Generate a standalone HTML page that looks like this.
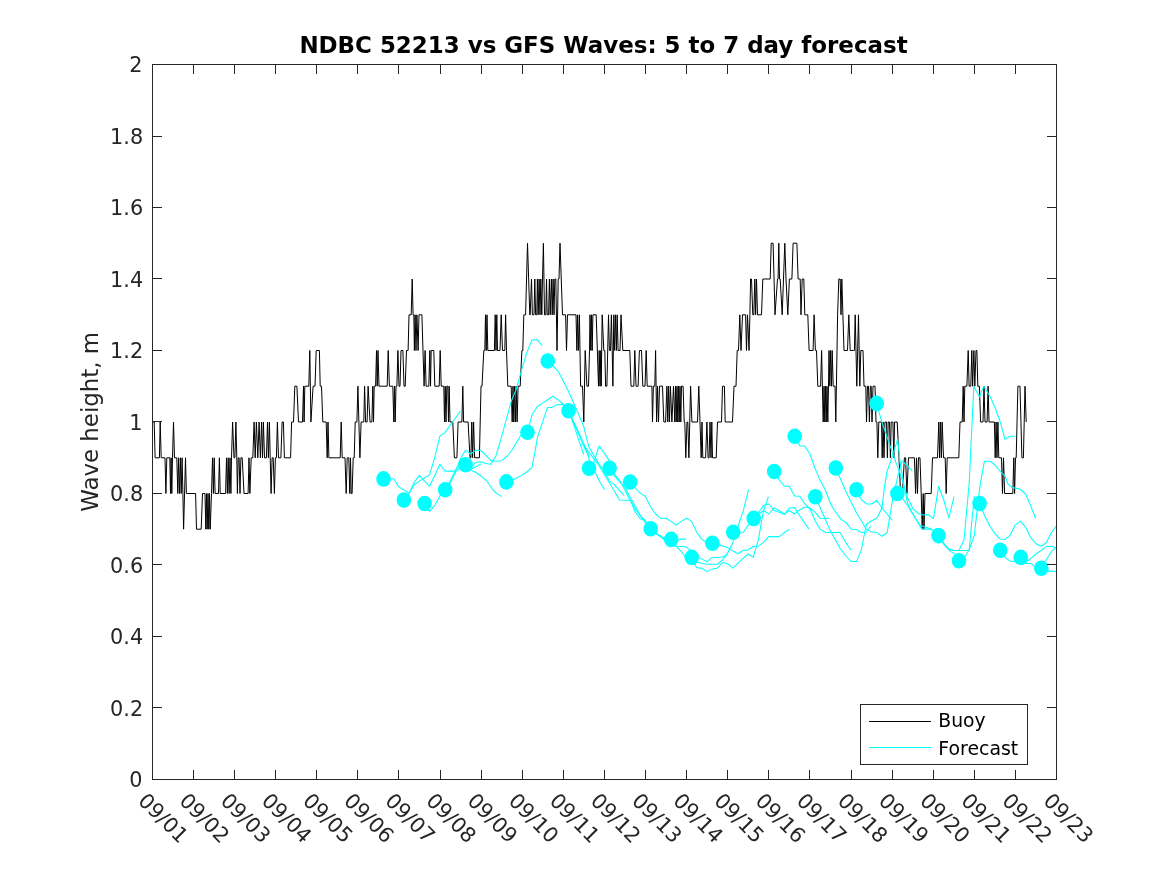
<!DOCTYPE html>
<html lang="en"><head><meta charset="utf-8"><title>NDBC 52213 vs GFS Waves: 5 to 7 day forecast</title>
<style>html,body{margin:0;padding:0;background:#fff;}body{width:1167px;height:875px;overflow:hidden;}svg{display:block;}text{font-family:"DejaVu Sans","Liberation Sans",sans-serif;}</style></head><body>
<svg width="1167" height="875" viewBox="0 0 1167 875">
<rect x="0" y="0" width="1167" height="875" fill="#fff"/>
<defs><clipPath id="axclip"><rect x="152.5" y="64.5" width="904.0" height="715.0"/></clipPath></defs>
<g fill="none" stroke="#000" stroke-width="1" stroke-linejoin="miter" stroke-miterlimit="3">
<path d="M152.5 422.0L154.2 422.0L155.1 457.8L159.4 457.8L160.2 422.0L161.2 457.8L165.0 457.8L165.9 493.5L166.8 457.8L169.8 457.8L170.5 493.5L171.1 457.8L171.8 493.5L172.5 457.8L173.5 422.0L174.5 457.8L176.8 457.8L177.8 493.5L178.6 457.8L179.5 493.5L180.4 457.8L181.2 493.5L182.1 457.8L182.9 493.5L183.6 529.2L185.5 457.8L186.4 493.5L195.6 493.5L196.5 529.2L201.2 529.2L202.5 493.5L205.0 493.5L205.8 529.2L206.5 493.5L207.2 529.2L208.0 493.5L208.8 529.2L209.5 493.5L210.2 529.2L211.5 493.5L212.5 457.8L213.4 493.5L214.2 457.8L215.1 493.5L218.5 493.5L219.4 457.8L220.2 493.5L225.6 493.5L226.5 457.8L227.4 493.5L228.2 457.8L229.1 493.5L230.0 457.8L230.9 493.5L231.5 457.8L232.6 422.0L234.0 457.8L234.9 457.8L235.9 422.0L236.8 457.8L237.4 493.5L238.2 457.8L239.1 457.8L240.0 493.5L240.9 457.8L242.2 457.8L244.0 493.5L248.1 493.5L249.0 457.8L249.9 493.5L251.2 457.8L252.8 457.8L254.1 422.0L255.2 457.8L256.4 422.0L257.8 457.8L259.1 422.0L260.4 457.8L261.6 422.0L262.5 457.8L263.4 422.0L264.5 457.8L266.4 457.8L267.5 422.0L268.4 457.8L269.4 422.0L270.2 457.8L271.1 493.5L272.1 457.8L273.2 457.8L274.4 493.5L275.4 457.8L276.4 457.8L277.4 422.0L278.5 457.8L280.9 457.8L282.1 422.0L283.4 422.0L284.4 457.8L290.6 457.8L291.6 422.0L293.5 422.0L294.8 386.2L296.9 386.2L298.5 422.0L302.5 422.0L303.5 386.2L304.1 422.0L304.8 386.2L308.8 386.2L309.8 350.5L310.9 422.0L313.1 386.2L315.0 386.2L316.2 350.5L319.4 350.5L320.2 386.2L321.5 386.2L322.8 422.0L326.2 422.0L327.2 457.8L328.0 422.0L328.9 457.8L340.2 457.8L341.2 422.0L342.2 457.8L345.0 457.8L346.2 493.5L347.2 457.8L348.8 457.8L349.8 493.5L350.5 457.8L351.2 493.5L352.1 493.5L353.2 457.8L354.2 457.8L355.2 422.0L356.9 422.0L357.9 386.2L359.9 457.8L361.1 422.0L363.8 422.0L364.6 386.2L365.6 422.0L367.1 422.0L368.1 386.2L370.0 422.0L371.9 422.0L372.8 386.2L373.5 422.0L374.2 386.2L375.6 386.2L376.5 350.5L377.2 386.2L378.0 350.5L379.0 386.2L387.2 386.2L388.2 350.5L389.4 386.2L392.8 386.2L393.8 422.0L394.5 386.2L395.2 422.0L396.0 386.2L396.9 386.2L397.9 350.5L399.0 386.2L400.0 386.2L401.0 350.5L402.9 350.5L404.0 386.2L405.2 386.2L406.5 350.5L408.1 350.5L409.0 314.8L411.2 314.8L412.2 279.0L413.1 314.8L413.8 314.8L414.4 350.5L415.1 314.8L416.0 350.5L416.9 314.8L418.1 350.5L419.0 314.8L421.9 314.8L424.1 386.2L425.1 350.5L426.1 386.2L428.8 386.2L429.8 350.5L430.5 386.2L431.2 350.5L433.8 350.5L434.8 386.2L439.2 386.2L440.2 350.5L441.2 386.2L443.8 386.2L444.5 422.0L445.2 386.2L446.0 422.0L446.8 386.2L447.8 386.2L448.5 422.0L449.2 386.2L450.0 422.0L451.0 422.0L452.8 422.0L454.4 457.8L456.9 457.8L458.1 422.0L461.9 422.0L462.8 386.2L463.6 422.0L468.1 422.0L470.0 457.8L470.9 457.8L471.8 422.0L472.6 457.8L473.6 422.0L474.6 457.8L479.4 457.8L481.0 386.2L482.0 386.2L483.8 350.5L484.8 350.5L485.5 314.8L486.2 350.5L487.0 314.8L487.8 350.5L494.4 350.5L495.2 314.8L496.0 350.5L496.8 314.8L497.5 350.5L500.0 350.5L501.2 314.8L502.5 350.5L504.8 350.5L505.6 314.8L506.5 350.5L507.8 386.2L511.2 386.2L512.2 422.0L513.0 386.2L513.8 422.0L514.5 386.2L515.4 422.0L516.2 386.2L517.1 422.0L518.1 386.2L520.2 386.2L521.9 350.5L522.8 350.5L523.8 314.8L525.6 314.8L527.5 243.2L529.8 314.8L530.2 314.8L531.5 279.0L532.4 314.8L534.0 314.8L534.8 279.0L535.6 314.8L536.8 314.8L537.4 279.0L538.2 314.8L539.1 279.0L540.0 314.8L540.8 279.0L541.8 314.8L542.5 279.0L543.4 243.2L544.5 314.8L545.8 314.8L546.5 279.0L547.2 314.8L548.6 314.8L549.4 279.0L550.2 314.8L551.4 279.0L552.2 314.8L553.1 279.0L554.0 314.8L554.8 279.0L555.8 279.0L557.0 350.5L558.2 279.0L559.0 279.0L560.0 243.2L562.5 314.8L565.6 314.8L566.5 350.5L567.5 314.8L575.0 314.8L576.0 314.8L576.9 350.5L577.6 314.8L578.5 350.5L579.4 314.8L580.6 386.2L582.5 386.2L583.8 422.0L585.2 350.5L586.9 386.2L588.5 386.2L589.5 350.5L590.0 314.8L590.8 350.5L591.5 314.8L592.2 350.5L592.9 314.8L596.2 314.8L598.5 386.2L599.2 350.5L600.0 386.2L600.8 350.5L601.2 386.2L602.2 314.8L603.8 350.5L604.8 350.5L605.6 386.2L606.9 386.2L608.5 314.8L609.4 350.5L610.5 350.5L611.4 314.8L612.2 350.5L612.9 386.2L613.8 314.8L614.6 350.5L615.5 314.8L616.4 350.5L617.2 314.8L618.1 350.5L620.0 350.5L621.0 314.8L622.8 350.5L629.8 350.5L631.0 386.2L633.8 386.2L634.8 350.5L636.0 386.2L638.1 386.2L639.4 350.5L641.5 350.5L642.8 386.2L645.0 386.2L646.2 350.5L647.2 386.2L651.9 386.2L652.5 422.0L653.4 386.2L654.8 386.2L655.6 350.5L656.6 422.0L657.5 386.2L658.5 422.0L659.5 386.2L662.5 386.2L663.8 422.0L665.6 422.0L666.9 386.2L667.8 422.0L668.6 386.2L669.5 422.0L670.4 386.2L671.9 422.0L673.5 386.2L674.8 422.0L675.5 386.2L676.2 422.0L677.0 386.2L677.8 422.0L678.5 386.2L679.2 422.0L680.0 386.2L680.8 422.0L681.5 386.2L683.1 386.2L684.2 422.0L684.8 422.0L685.8 457.8L687.0 422.0L687.8 422.0L688.9 457.8L690.6 386.2L691.9 422.0L697.5 422.0L698.8 386.2L700.0 422.0L701.2 457.8L702.0 422.0L702.8 457.8L705.6 457.8L706.9 422.0L708.1 457.8L709.1 457.8L710.0 422.0L711.0 457.8L711.8 422.0L712.5 457.8L713.1 457.8L716.2 457.8L717.5 422.0L721.5 422.0L722.5 386.2L724.4 386.2L725.2 422.0L732.5 422.0L734.0 386.2L736.0 386.2L737.2 350.5L738.5 350.5L739.8 314.8L741.0 350.5L742.5 314.8L745.6 314.8L746.5 350.5L747.5 314.8L749.0 350.5L749.9 314.8L750.6 279.0L751.5 279.0L752.8 314.8L753.8 314.8L754.8 279.0L755.6 314.8L756.5 279.0L757.5 314.8L761.5 314.8L762.8 279.0L770.2 279.0L771.2 243.2L773.1 243.2L775.0 314.8L777.5 279.0L778.1 279.0L778.8 243.2L779.5 279.0L780.2 279.0L782.2 314.8L784.8 243.2L786.0 279.0L787.8 314.8L789.4 279.0L791.9 279.0L793.1 243.2L796.9 243.2L798.1 279.0L800.2 279.0L801.0 314.8L802.2 279.0L803.8 279.0L804.8 314.8L807.8 314.8L809.1 350.5L813.1 350.5L814.1 314.8L815.4 350.5L816.5 350.5L817.8 386.2L820.6 386.2L821.6 350.5L823.2 422.0L824.0 386.2L824.8 422.0L825.5 386.2L826.2 422.0L827.0 386.2L827.8 422.0L828.5 386.2L829.0 350.5L829.8 386.2L830.6 350.5L831.5 386.2L832.2 350.5L833.2 386.2L835.0 386.2L835.8 422.0L837.6 314.8L838.8 279.0L840.2 279.0L841.0 314.8L841.8 279.0L844.0 350.5L847.5 350.5L848.8 314.8L850.2 350.5L853.8 350.5L854.4 350.5L855.2 314.8L856.8 386.2L858.5 314.8L859.8 386.2L860.8 350.5L863.0 350.5L864.0 386.2L865.8 386.2L866.5 422.0L867.5 386.2L868.5 386.2L869.4 422.0L870.4 386.2L871.2 386.2L872.0 422.0L873.0 386.2L875.0 386.2L876.0 422.0L876.9 422.0L877.8 457.8L878.8 422.0L881.5 422.0L882.2 457.8L883.1 422.0L884.0 457.8L884.9 422.0L886.5 422.0L887.4 457.8L888.2 422.0L889.5 422.0L890.4 457.8L891.2 422.0L892.9 422.0L893.8 457.8L894.6 422.0L897.2 422.0L899.0 457.8L900.6 493.5L902.5 493.5L904.4 457.8L905.6 457.8L906.9 493.5L908.5 457.8L914.4 457.8L915.6 493.5L916.5 457.8L917.5 493.5L918.5 457.8L920.0 457.8L921.2 493.5L922.2 529.2L923.2 493.5L924.0 529.2L925.0 493.5L931.2 493.5L932.5 457.8L937.5 457.8L938.8 422.0L939.6 457.8L940.5 422.0L941.4 457.8L942.2 422.0L943.5 457.8L945.2 457.8L946.2 493.5L947.2 457.8L958.8 457.8L960.0 422.0L962.2 422.0L963.2 386.2L964.0 422.0L964.8 386.2L966.9 386.2L968.2 350.5L969.1 386.2L970.8 386.2L971.8 350.5L972.6 386.2L973.9 350.5L974.8 386.2L976.0 350.5L976.9 350.5L977.8 386.2L979.4 386.2L980.6 422.0L983.0 422.0L984.0 386.2L985.0 422.0L987.1 422.0L988.1 386.2L989.0 422.0L994.4 422.0L995.2 457.8L996.1 422.0L997.0 457.8L997.9 422.0L998.8 457.8L1001.5 457.8L1002.5 493.5L1003.5 457.8L1004.6 493.5L1012.8 493.5L1013.8 457.8L1014.6 493.5L1015.5 457.8L1016.2 457.8L1017.9 386.2L1020.0 386.2L1021.9 457.8L1023.4 457.8L1025.0 386.2L1026.2 422.0"/>
</g>
<g fill="none" stroke="#00ffff" stroke-width="1.05" stroke-linejoin="round" clip-path="url(#axclip)">
<path d="M383.4 478.8L388.5 478.5L393.7 478.8L398.8 486.9L403.9 490.0L409.1 493.1L414.2 484.8L419.4 481.1L424.5 478.0L429.6 474.9L434.8 457.4L439.9 436.0L445.1 432.6L450.2 425.2L455.3 418.3L460.5 411.1"/>
<path d="M403.9 500.2L409.1 493.7L414.2 482.3L419.4 475.4L424.5 481.1L429.6 486.2L434.8 475.4L439.9 464.3L445.1 471.1L450.2 471.1L455.3 471.1L460.5 468.5L465.6 467.7L470.8 469.4L475.9 466.8L481.1 463.9"/>
<path d="M424.5 503.7L429.6 511.4L434.8 505.4L439.9 496.0L445.1 489.5L450.2 483.1L455.3 472.8L460.5 463.4L465.6 466.0L471.1 470.3L476.3 472.8L481.4 476.3L486.5 480.5L491.7 488.3L496.5 493.4L501.6 496.5"/>
<path d="M444.9 489.5L450.0 481.4L455.2 471.1L460.3 459.1L465.5 450.2L470.6 454.0L475.7 450.2L480.9 450.5L486.0 455.3L491.2 460.8L496.3 461.2L501.4 460.8L506.6 456.5L511.7 450.5L516.9 442.0L522.0 433.4"/>
<path d="M465.1 464.3L470.3 469.1L475.4 462.5L480.5 461.7L485.7 463.4L490.8 464.3L496.0 455.7L501.1 438.6L506.2 419.7L511.4 400.8L516.5 388.6L521.7 369.7L526.8 352.6L531.9 340.1L537.1 339.4L542.2 346.0"/>
<path d="M506.2 482.3L511.4 480.5L516.5 478.0L521.7 475.4L526.8 472.0L532.0 467.3L534.9 451.9L537.6 436.8L542.8 421.4L547.5 407.4L552.0 407.4L557.1 404.8L562.3 404.3L567.9 409.1L573.1 422.8L578.2 438.3L583.7 454.5"/>
<path d="M527.1 432.3L532.3 414.3L537.4 406.5L542.6 403.1L547.7 399.7L552.8 396.3L558.0 399.7L563.1 404.0L568.3 410.8L573.4 421.1L578.6 432.3L583.7 443.4L588.8 455.4L588.8 458.9L596.0 474.3L600.3 482.8L604.6 489.7"/>
<path d="M547.7 361.1L552.8 365.9L558.0 371.1L563.1 380.8L568.3 391.1L573.4 402.3L578.6 414.3L583.7 426.3L588.8 446.8L594.0 455.4L599.1 464.0L604.2 470.8L609.4 481.1L614.5 484.6L619.6 490.6L624.3 495.7"/>
<path d="M568.3 410.8L573.4 422.0L578.6 434.0L583.7 446.0L588.8 457.1L583.7 445.1L588.8 452.0L593.9 458.9L599.1 465.7L604.2 474.3L609.4 482.8L614.5 491.4L619.6 500.0L624.8 500.3L630.6 500.3L635.1 512.0L640.2 518.5L645.3 521.4"/>
<path d="M588.8 468.3L593.9 462.3L599.1 446.0L604.2 452.9L609.4 460.6L614.5 474.3L619.6 480.3L624.8 489.7L629.9 500.0L635.1 508.6L640.2 515.4L645.3 520.5L650.5 528.8L655.6 533.4L660.8 536.8L665.7 538.5"/>
<path d="M609.4 468.3L614.5 476.0L619.6 482.0L624.8 487.1L629.9 496.6L635.1 506.0L640.2 515.4L645.3 522.3L650.5 528.8L655.6 533.4L660.8 536.8L665.9 541.1L671.1 542.8L676.2 541.1L681.3 539.1L686.0 539.1"/>
<path d="M629.9 482.0L635.1 488.0L640.2 493.1L645.3 496.2L650.5 506.8L655.6 514.0L660.8 518.3L665.9 518.3L671.1 521.4L676.2 525.2L681.3 521.4L686.5 518.3L691.6 521.4L696.8 532.5L701.9 539.4L707.0 542.8"/>
<path d="M650.5 528.8L655.6 533.4L660.8 536.0L665.9 541.1L671.1 542.8L676.2 546.3L681.3 546.6L686.5 547.1L691.6 551.4L696.8 556.5L701.9 559.1L707.0 561.7L712.2 557.4L717.3 557.4L722.5 556.9L727.6 554.5"/>
<path d="M671.1 539.4L676.2 546.3L681.3 551.4L686.5 558.3L691.6 560.0L696.8 561.7L701.9 563.4L707.0 564.3L712.2 564.3L717.3 564.3L722.5 560.0L727.6 553.1L732.8 542.8L738.2 525.7L743.4 510.3L748.5 489.7"/>
<path d="M691.6 557.4L696.8 567.7L701.9 568.2L707.0 571.6L712.2 568.9L717.3 568.2L722.5 562.5L727.6 563.7L732.8 568.2L737.9 563.4L743.0 558.3L748.2 554.0L753.2 557.3L758.4 539.7L763.5 510.5L768.5 496.8"/>
<path d="M712.2 543.2L717.3 543.7L722.5 545.9L727.5 547.4L732.7 550.8L737.8 553.7L743.0 550.5L748.1 550.0L753.2 546.5L758.4 546.2L763.5 542.3L768.7 536.6L773.8 536.6L779.0 536.6L784.1 532.8L789.1 529.4"/>
<path d="M732.9 532.3L738.0 532.8L743.1 532.5L748.3 525.1L753.4 518.3L758.6 512.3L763.7 505.4L768.8 504.0L774.0 510.5L779.1 512.3L784.3 514.3L789.4 508.0L794.6 507.5L799.7 515.7L804.8 523.4L809.1 529.1"/>
<path d="M753.4 518.3L758.6 514.0L763.7 510.5L768.8 514.0L774.0 508.0L779.1 510.5L784.3 514.0L789.4 510.5L794.6 514.0L799.7 509.7L804.8 507.1L810.0 508.0L815.1 512.3L820.3 518.3L825.4 518.6L829.7 518.3"/>
<path d="M774.0 471.6L779.1 479.7L784.3 486.0L789.4 486.6L794.6 496.0L799.7 496.3L804.8 503.7L810.0 508.8L815.1 520.8L820.3 529.4L825.4 532.3L830.5 532.5L840.0 532.5L846.0 543.1L851.1 550.0"/>
<path d="M794.6 436.5L799.7 445.8L804.8 446.3L810.0 454.0L815.1 468.6L820.3 480.6L825.4 490.0L830.5 503.7L835.7 512.3L840.8 519.1L846.0 522.5L851.1 529.1L856.2 529.4L861.4 532.5L866.5 532.0L870.8 526.0"/>
<path d="M815.1 496.8L818.5 503.7L823.7 515.7L829.7 529.4L834.8 538.8L840.0 548.3L846.0 556.0L851.1 561.4L856.6 561.4L861.4 550.0L864.8 532.0L866.5 524.3L871.7 520.8L876.8 518.3L882.0 508.0L884.5 486.6L887.1 471.1L891.4 459.1L897.7 439.1L899.9 460.8L904.2 486.6L907.7 503.7L911.9 512.3L919.9 525.2L931.4 529.1"/>
<path d="M835.7 468.0L840.8 479.7L846.0 491.7L851.1 502.0L856.2 512.3L861.4 520.8L866.5 529.4L871.7 532.0L876.8 532.3L882.0 536.3L887.1 532.8L892.2 502.0L897.4 478.0L902.1 461.1L907.2 465.5L912.4 471.1"/>
<path d="M856.2 490.0L861.4 499.4L866.5 504.0L871.7 504.0L876.8 500.3L882.0 508.0L887.1 514.0L892.2 520.3"/>
<path d="M876.5 403.4L882.1 422.9L887.2 437.4L892.3 452.3L897.5 466.6L902.6 481.1L907.8 498.3L912.9 508.6L918.0 513.4L923.2 515.1L928.3 514.6L933.5 518.5L938.6 486.3L943.8 500.0L948.9 518.0L954.0 496.6"/>
<path d="M897.1 493.5L902.3 498.3L907.4 505.1L912.6 513.7L917.7 522.3L922.0 529.1L931.4 529.1L938.3 535.6L943.4 542.8L948.6 548.8L953.7 550.5L958.8 550.5L964.0 550.5L969.1 550.5L974.3 496.0"/>
<path d="M938.3 535.6L943.4 543.5L948.6 549.5L953.7 550.5L958.9 550.5L964.0 540.0L969.2 483.0L973.8 386.2L979.4 396.9L983.8 386.2L990.0 396.2L995.0 407.5L1000.0 421.2L1005.0 439.4L1010.0 436.2L1015.6 436.2"/>
<path d="M938.3 535.6L943.4 543.7L950.3 551.4L955.4 554.0L958.8 560.8"/>
<path d="M958.8 560.8L964.0 558.3L969.1 549.7L974.3 535.5L979.4 490.4L981.2 478.8L984.4 461.2L990.0 461.2L995.0 465.0L1000.0 471.2L1005.0 476.2L1008.0 483.8L1011.9 487.5L1020.0 489.0L1025.7 494.0L1030.8 506.0L1035.6 518.5"/>
<path d="M979.4 503.8L984.5 515.4L989.7 525.7L994.8 533.4L1000.0 539.1L1005.1 539.4L1010.2 535.1L1015.4 524.8L1020.5 521.1L1025.7 527.4L1030.8 537.7L1036.0 543.7L1041.1 546.3L1046.2 542.8L1051.4 532.5L1056.5 525.7"/>
<path d="M1000.0 550.2L1005.1 557.4L1010.2 561.3L1015.4 561.3L1020.5 560.0L1025.7 562.5L1030.8 558.3L1036.0 554.0L1041.1 550.5L1046.2 546.6L1051.4 546.3L1056.5 548.0"/>
<path d="M1020.5 557.4L1025.7 563.4L1030.8 563.4L1036.0 567.7L1041.1 568.2L1046.2 560.0L1051.4 551.4L1056.5 547.1"/>
<path d="M1041.1 568.2L1046.2 571.1L1051.4 571.1L1056.5 571.6"/>
</g>
<g fill="#00ffff" stroke="none">
<ellipse cx="383.5" cy="478.9" rx="7.3" ry="7.8"/>
<ellipse cx="403.9" cy="500.0" rx="7.3" ry="7.8"/>
<ellipse cx="424.6" cy="503.5" rx="7.3" ry="7.8"/>
<ellipse cx="445.2" cy="489.8" rx="7.3" ry="7.8"/>
<ellipse cx="465.6" cy="464.8" rx="7.3" ry="7.8"/>
<ellipse cx="506.4" cy="481.9" rx="7.3" ry="7.8"/>
<ellipse cx="527.5" cy="432.2" rx="7.3" ry="7.8"/>
<ellipse cx="547.8" cy="361.0" rx="7.3" ry="7.8"/>
<ellipse cx="568.6" cy="410.7" rx="7.3" ry="7.8"/>
<ellipse cx="589.0" cy="468.2" rx="7.3" ry="7.8"/>
<ellipse cx="609.6" cy="468.2" rx="7.3" ry="7.8"/>
<ellipse cx="630.1" cy="482.0" rx="7.3" ry="7.8"/>
<ellipse cx="650.7" cy="528.8" rx="7.3" ry="7.8"/>
<ellipse cx="671.2" cy="539.4" rx="7.3" ry="7.8"/>
<ellipse cx="691.8" cy="557.4" rx="7.3" ry="7.8"/>
<ellipse cx="712.4" cy="543.2" rx="7.3" ry="7.8"/>
<ellipse cx="733.2" cy="532.3" rx="7.3" ry="7.8"/>
<ellipse cx="753.7" cy="518.4" rx="7.3" ry="7.8"/>
<ellipse cx="774.2" cy="471.5" rx="7.3" ry="7.8"/>
<ellipse cx="794.7" cy="436.2" rx="7.3" ry="7.8"/>
<ellipse cx="815.3" cy="496.8" rx="7.3" ry="7.8"/>
<ellipse cx="835.8" cy="468.0" rx="7.3" ry="7.8"/>
<ellipse cx="856.5" cy="489.8" rx="7.3" ry="7.8"/>
<ellipse cx="876.7" cy="403.4" rx="7.3" ry="7.8"/>
<ellipse cx="897.4" cy="493.4" rx="7.3" ry="7.8"/>
<ellipse cx="938.5" cy="535.6" rx="7.3" ry="7.8"/>
<ellipse cx="959.0" cy="560.8" rx="7.3" ry="7.8"/>
<ellipse cx="979.6" cy="503.5" rx="7.3" ry="7.8"/>
<ellipse cx="1000.2" cy="550.2" rx="7.3" ry="7.8"/>
<ellipse cx="1020.7" cy="557.4" rx="7.3" ry="7.8"/>
<ellipse cx="1041.3" cy="568.2" rx="7.3" ry="7.8"/>
</g>
<g stroke="#262626" stroke-width="1" fill="none" shape-rendering="crispEdges">
<rect x="152.5" y="64.5" width="904.0" height="715.0"/>
<path d="M193.5 779.5V770.0M193.5 64.5V74.0"/>
<path d="M234.5 779.5V770.0M234.5 64.5V74.0"/>
<path d="M275.5 779.5V770.0M275.5 64.5V74.0"/>
<path d="M316.5 779.5V770.0M316.5 64.5V74.0"/>
<path d="M357.5 779.5V770.0M357.5 64.5V74.0"/>
<path d="M398.5 779.5V770.0M398.5 64.5V74.0"/>
<path d="M440.5 779.5V770.0M440.5 64.5V74.0"/>
<path d="M481.5 779.5V770.0M481.5 64.5V74.0"/>
<path d="M522.5 779.5V770.0M522.5 64.5V74.0"/>
<path d="M563.5 779.5V770.0M563.5 64.5V74.0"/>
<path d="M604.5 779.5V770.0M604.5 64.5V74.0"/>
<path d="M645.5 779.5V770.0M645.5 64.5V74.0"/>
<path d="M686.5 779.5V770.0M686.5 64.5V74.0"/>
<path d="M727.5 779.5V770.0M727.5 64.5V74.0"/>
<path d="M768.5 779.5V770.0M768.5 64.5V74.0"/>
<path d="M809.5 779.5V770.0M809.5 64.5V74.0"/>
<path d="M851.5 779.5V770.0M851.5 64.5V74.0"/>
<path d="M892.5 779.5V770.0M892.5 64.5V74.0"/>
<path d="M933.5 779.5V770.0M933.5 64.5V74.0"/>
<path d="M974.5 779.5V770.0M974.5 64.5V74.0"/>
<path d="M1015.5 779.5V770.0M1015.5 64.5V74.0"/>
<path d="M152.5 707.5H162.0M1056.5 707.5H1047.0"/>
<path d="M152.5 636.5H162.0M1056.5 636.5H1047.0"/>
<path d="M152.5 564.5H162.0M1056.5 564.5H1047.0"/>
<path d="M152.5 493.5H162.0M1056.5 493.5H1047.0"/>
<path d="M152.5 421.5H162.0M1056.5 421.5H1047.0"/>
<path d="M152.5 350.5H162.0M1056.5 350.5H1047.0"/>
<path d="M152.5 278.5H162.0M1056.5 278.5H1047.0"/>
<path d="M152.5 207.5H162.0M1056.5 207.5H1047.0"/>
<path d="M152.5 136.5H162.0M1056.5 136.5H1047.0"/>
</g>
<g fill="#262626" font-size="20.8px" text-anchor="end">
<text x="142.4" y="786.5">0</text>
<text x="143.2" y="715.7">0.2</text>
<text x="143.2" y="644.2">0.4</text>
<text x="143.2" y="572.7">0.6</text>
<text x="143.2" y="501.2">0.8</text>
<text x="142.4" y="429.7">1</text>
<text x="143.2" y="358.2">1.2</text>
<text x="143.2" y="286.7">1.4</text>
<text x="143.2" y="215.2">1.6</text>
<text x="143.2" y="143.7">1.8</text>
<text x="142.4" y="72.2">2</text>
</g>
<g fill="#262626" font-size="20.8px">
<text transform="translate(137.1 801.9) rotate(45)" x="0" y="0">09/01</text>
<text transform="translate(178.2 801.9) rotate(45)" x="0" y="0">09/02</text>
<text transform="translate(219.4 801.9) rotate(45)" x="0" y="0">09/03</text>
<text transform="translate(260.5 801.9) rotate(45)" x="0" y="0">09/04</text>
<text transform="translate(301.7 801.9) rotate(45)" x="0" y="0">09/05</text>
<text transform="translate(342.8 801.9) rotate(45)" x="0" y="0">09/06</text>
<text transform="translate(383.9 801.9) rotate(45)" x="0" y="0">09/07</text>
<text transform="translate(425.1 801.9) rotate(45)" x="0" y="0">09/08</text>
<text transform="translate(466.2 801.9) rotate(45)" x="0" y="0">09/09</text>
<text transform="translate(507.4 801.9) rotate(45)" x="0" y="0">09/10</text>
<text transform="translate(548.5 801.9) rotate(45)" x="0" y="0">09/11</text>
<text transform="translate(589.6 801.9) rotate(45)" x="0" y="0">09/12</text>
<text transform="translate(630.8 801.9) rotate(45)" x="0" y="0">09/13</text>
<text transform="translate(671.9 801.9) rotate(45)" x="0" y="0">09/14</text>
<text transform="translate(713.1 801.9) rotate(45)" x="0" y="0">09/15</text>
<text transform="translate(754.2 801.9) rotate(45)" x="0" y="0">09/16</text>
<text transform="translate(795.4 801.9) rotate(45)" x="0" y="0">09/17</text>
<text transform="translate(836.5 801.9) rotate(45)" x="0" y="0">09/18</text>
<text transform="translate(877.6 801.9) rotate(45)" x="0" y="0">09/19</text>
<text transform="translate(918.8 801.9) rotate(45)" x="0" y="0">09/20</text>
<text transform="translate(959.9 801.9) rotate(45)" x="0" y="0">09/21</text>
<text transform="translate(1001.1 801.9) rotate(45)" x="0" y="0">09/22</text>
<text transform="translate(1042.2 801.9) rotate(45)" x="0" y="0">09/23</text>
</g>
<text transform="translate(98 421.8) rotate(-90)" text-anchor="middle" font-size="22.9px" fill="#262626">Wave height, m</text>
<text x="603.5" y="53" text-anchor="middle" font-size="22.95px" font-weight="bold" fill="#000">NDBC 52213 vs GFS Waves: 5 to 7 day forecast</text>
<rect x="860.5" y="704.5" width="167" height="60" fill="#fff" stroke="#262626" stroke-width="1" shape-rendering="crispEdges"/>
<path d="M869 721.5H931" stroke="#000" stroke-width="1" fill="none"/>
<path d="M869 747.5H931" stroke="#00ffff" stroke-width="1" fill="none"/>
<text x="938.3" y="727.4" font-size="18.75px" fill="#000">Buoy</text>
<text x="938.3" y="754.7" font-size="18.9px" fill="#000">Forecast</text>
</svg></body></html>
